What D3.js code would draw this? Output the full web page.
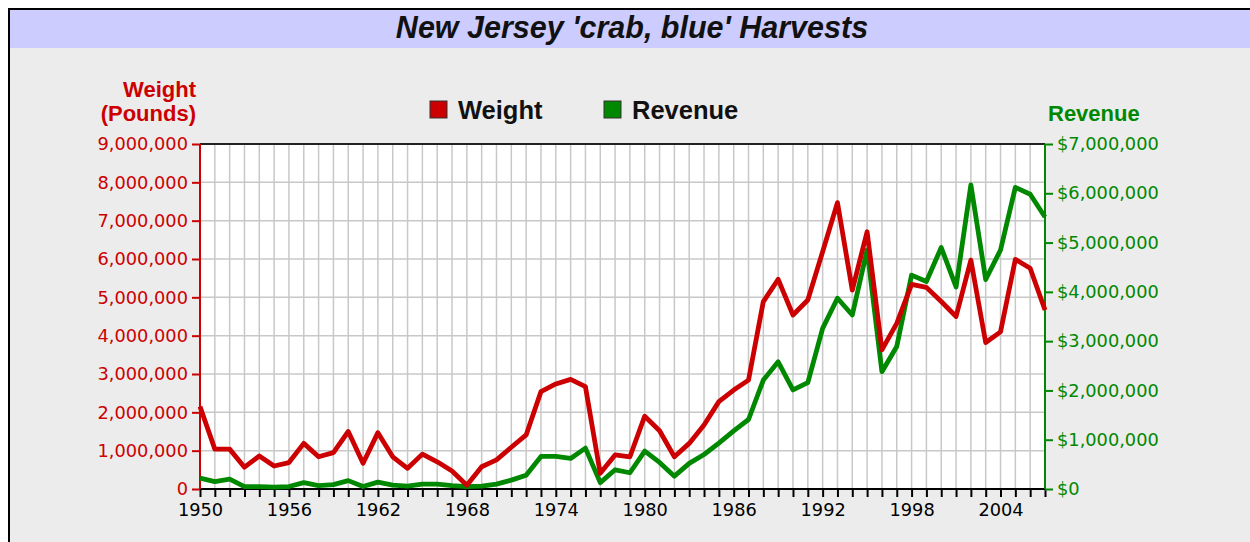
<!DOCTYPE html>
<html>
<head>
<meta charset="utf-8">
<script src="https://cdnjs.cloudflare.com/ajax/libs/d3/7.8.5/d3.min.js"></script>
<style>
  body { margin: 0; background: #fff; }
  svg { display: block; }
  .tick text { font-family: "DejaVu Sans", Verdana, sans-serif; font-size: 17.8px; }
</style>
</head>
<body>
<svg width="1250" height="542"></svg>
<script>
var years = d3.range(1950, 2008);

var weight = [
  2150000, 1040000, 1040000, 570000, 860000, 600000, 690000, 1190000, 840000, 950000,
  1500000, 670000, 1470000, 840000, 540000, 910000, 710000, 470000, 100000, 580000,
  760000, 1090000, 1410000, 2540000, 2740000, 2860000, 2670000, 410000, 890000, 840000,
  1900000, 1520000, 840000, 1190000, 1670000, 2280000, 2580000, 2840000, 4890000, 5470000,
  4540000, 4930000, 6190000, 7470000, 5190000, 6710000, 3630000, 4320000, 5340000, 5260000,
  4890000, 4500000, 5970000, 3820000, 4100000, 5990000, 5760000, 4670000
];

var revenue = [
  220000, 150000, 200000, 50000, 50000, 40000, 50000, 130000, 70000, 90000,
  170000, 50000, 140000, 80000, 60000, 100000, 100000, 70000, 50000, 60000,
  100000, 180000, 280000, 660000, 660000, 620000, 830000, 130000, 390000, 330000,
  770000, 540000, 260000, 520000, 700000, 930000, 1180000, 1410000, 2210000, 2580000,
  2010000, 2160000, 3260000, 3870000, 3530000, 4850000, 2380000, 2890000, 4340000, 4210000,
  4900000, 4100000, 6170000, 4250000, 4850000, 6120000, 5980000, 5520000
];

var yearLabels = [1950, 1956, 1962, 1968, 1974, 1980, 1986, 1992, 1998, 2004];
var weightTicks = d3.range(0, 9000001, 1000000);
var revenueTicks = d3.range(0, 7000001, 1000000);

var red = "#cc0000",
  green = "#008800";

var svg = d3.select("svg"),
  margin = {top: 144, right: 205, bottom: 53, left: 200},
  width = 1250 - margin.left - margin.right,
  height = 542 - margin.top - margin.bottom;

// frame and title bar
svg.append("rect")
  .attr("x", 9).attr("y", 9)
  .attr("width", 1260).attr("height", 560)
  .attr("fill", "#ececec")
  .attr("stroke", "#000")
  .attr("stroke-width", 2);

svg.append("rect")
  .attr("x", 10).attr("y", 10)
  .attr("width", 1250).attr("height", 38)
  .attr("fill", "#ccccff");

svg.append("text")
  .attr("x", 632).attr("y", 38)
  .attr("text-anchor", "middle")
  .attr("font-family", "Liberation Sans, Arial, sans-serif")
  .attr("font-size", 30.5)
  .attr("font-weight", "bold")
  .attr("font-style", "italic")
  .attr("fill", "#111")
  .text("New Jersey 'crab, blue' Harvests");

var g = svg.append("g").attr("transform", "translate(" + margin.left + "," + margin.top + ")");

var x = d3.scaleLinear()
  .domain([1950, 2007])
  .range([0, width]);

var yW = d3.scaleLinear()
  .domain([0, 9000000])
  .range([height, 0]);

var yR = d3.scaleLinear()
  .domain([0, 7000000])
  .range([height, 0]);

g.append("rect")
  .attr("width", width)
  .attr("height", height)
  .attr("fill", "#fff");

// grid
g.append("g")
  .selectAll("line")
  .data(years)
  .enter().append("line")
  .attr("x1", function(d) { return x(d); })
  .attr("x2", function(d) { return x(d); })
  .attr("y1", 0)
  .attr("y2", height)
  .attr("stroke", "#c8c8c8")
  .attr("stroke-width", 1.5);

g.append("g")
  .selectAll("line")
  .data(weightTicks)
  .enter().append("line")
  .attr("x1", 0)
  .attr("x2", width)
  .attr("y1", function(d) { return yW(d); })
  .attr("y2", function(d) { return yW(d); })
  .attr("stroke", "#c8c8c8")
  .attr("stroke-width", 1.5);

g.append("line")
  .attr("x1", 0).attr("x2", width)
  .attr("y1", 0).attr("y2", 0)
  .attr("stroke", "#222")
  .attr("stroke-width", 2);

// axes
var fmt = d3.format(",");

var xAxis = g.append("g")
  .attr("transform", "translate(0," + height + ")")
  .call(d3.axisBottom(x)
    .tickValues(years)
    .tickSize(8)
    .tickFormat(function(d) { return yearLabels.indexOf(d) >= 0 ? d : ""; }));
xAxis.selectAll("line, path").attr("stroke", "#000").attr("stroke-width", 2);
xAxis.select(".domain").attr("d", "M0,0H" + width);
xAxis.selectAll("text").attr("fill", "#000").attr("dy", "0.92em");

var leftAxis = g.append("g")
  .call(d3.axisLeft(yW)
    .tickValues(weightTicks)
    .tickSize(8)
    .tickFormat(fmt));
leftAxis.selectAll("line, path").attr("stroke", red).attr("stroke-width", 2);
leftAxis.select(".domain").attr("d", "M0," + height + "V0");
leftAxis.selectAll("text").attr("fill", red).attr("x", -12);

var rightAxis = g.append("g")
  .attr("transform", "translate(" + width + ",0)")
  .call(d3.axisRight(yR)
    .tickValues(revenueTicks)
    .tickSize(8)
    .tickFormat(function(d) { return "$" + fmt(d); }));
rightAxis.selectAll("line, path").attr("stroke", green).attr("stroke-width", 2);
rightAxis.select(".domain").attr("d", "M0," + height + "V0");
rightAxis.selectAll("text").attr("fill", green).attr("x", 12);

// lines
var lineW = d3.line()
  .x(function(d, i) { return x(years[i]); })
  .y(function(d) { return yW(d); });

var lineR = d3.line()
  .x(function(d, i) { return x(years[i]); })
  .y(function(d) { return yR(d); });

g.append("path")
  .datum(revenue)
  .attr("d", lineR)
  .attr("fill", "none")
  .attr("stroke", green)
  .attr("stroke-width", 4.8)
  .attr("stroke-linejoin", "round");

g.append("path")
  .datum(weight)
  .attr("d", lineW)
  .attr("fill", "none")
  .attr("stroke", red)
  .attr("stroke-width", 4.8)
  .attr("stroke-linejoin", "round");

// axis titles
var leftTitle = svg.append("text")
  .attr("text-anchor", "end")
  .attr("font-family", "Liberation Sans, Arial, sans-serif")
  .attr("font-size", 22)
  .attr("font-weight", "bold")
  .attr("fill", red);
leftTitle.append("tspan").attr("x", 196).attr("y", 97).text("Weight");
leftTitle.append("tspan").attr("x", 196).attr("y", 121).text("(Pounds)");

svg.append("text")
  .attr("x", 1048).attr("y", 121)
  .attr("font-family", "Liberation Sans, Arial, sans-serif")
  .attr("font-size", 22)
  .attr("font-weight", "bold")
  .attr("fill", green)
  .text("Revenue");

// legend
var legend = svg.append("g")
  .selectAll("g")
  .data([{name: "Weight", color: red, x: 430}, {name: "Revenue", color: green, x: 604}])
  .enter().append("g")
  .attr("transform", function(d) { return "translate(" + d.x + ",101)"; });

legend.append("rect")
  .attr("width", 17)
  .attr("height", 17)
  .attr("fill", function(d) { return d.color; })
  .attr("stroke", "#333")
  .attr("stroke-width", 1);

legend.append("text")
  .attr("x", 28)
  .attr("y", 18)
  .attr("font-family", "Liberation Sans, Arial, sans-serif")
  .attr("font-size", 25.5)
  .attr("font-weight", "bold")
  .attr("fill", "#111")
  .text(function(d) { return d.name; });
</script>
</body>
</html>
